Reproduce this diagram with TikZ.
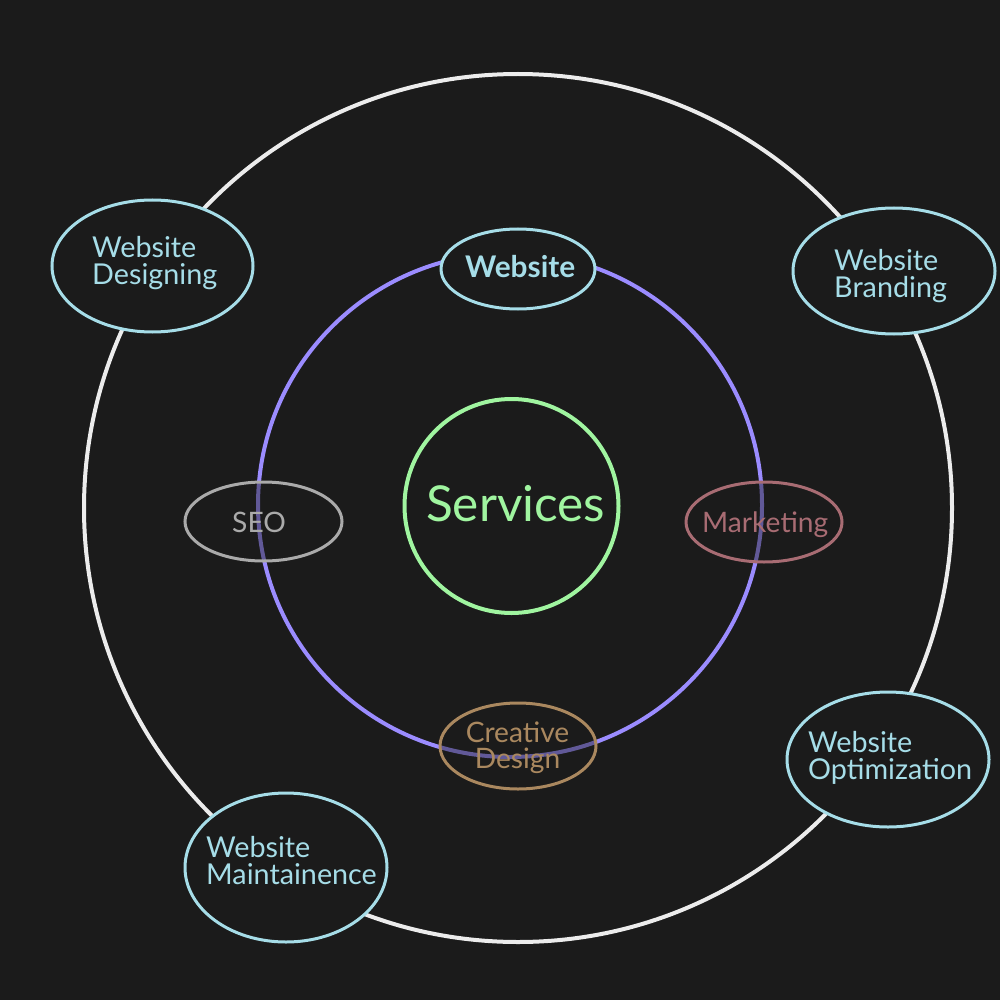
\documentclass[tikz,border=0pt]{standalone}
\usepackage{fontspec}
\setmainfont{Lato}
\usetikzlibrary{shapes.geometric}
\definecolor{bg}{HTML}{1B1B1B}
\definecolor{ringw}{RGB}{236,236,236}
\definecolor{ringp}{RGB}{155,140,255}
\definecolor{ringg}{RGB}{160,245,160}
\definecolor{cyanc}{RGB}{166,221,232}
\definecolor{seoc}{RGB}{170,170,170}
\definecolor{mktc}{RGB}{168,108,115}
\definecolor{crec}{RGB}{170,136,95}
\newlength\fitlen
\begin{document}
% font sizes fitted to the reference widths
\settowidth\fitlen{\fontsize{10}{10}\selectfont Designing}%
\pgfmathsetmacro\fsC{1250/\fitlen}\global\let\fsC\fsC
\settowidth\fitlen{\fontsize{10}{10}\selectfont\bfseries Website}%
\pgfmathsetmacro\fsW{1100/\fitlen}\global\let\fsW\fsW
\settowidth\fitlen{\fontsize{10}{10}\selectfont Services}%
\pgfmathsetmacro\fsS{1790/\fitlen}\global\let\fsS\fsS
\settowidth\fitlen{\fontsize{10}{10}\selectfont Marketing}%
\pgfmathsetmacro\fsM{1260/\fitlen}\global\let\fsM\fsM
\begin{tikzpicture}[x=1pt,y=-1pt,
  oval/.style={draw, ellipse, inner sep=0pt, line width=3pt},
  lbl/.style={inner sep=0pt, align=left}]
% background
\fill[bg] (0,0) rectangle (1000,1000);
\useasboundingbox (0,0) rectangle (1000,1000);
% outer ring
\node[draw=ringw, circle, line width=4pt, inner sep=0pt, minimum size=868pt] (outer) at (518,508) {};
% outer cyan ellipses
\node[oval, cyanc, fill=bg, minimum width=201pt, minimum height=132pt] (wd) at (152.5,266) {};
\node[oval, cyanc, fill=bg, minimum width=202pt, minimum height=126pt] (wb) at (894,271) {};
\node[oval, cyanc, fill=bg, minimum width=202pt, minimum height=135pt] (wo) at (888,759.5) {};
\node[oval, cyanc, fill=bg, minimum width=202pt, minimum height=149pt] (wm) at (286,867.5) {};
\node[lbl, text=cyanc, anchor=north west, font=\fontsize{\fsC}{27}\selectfont] (wdt) at (92,236) {Website\\Designing};
\node[lbl, text=cyanc, anchor=north west, font=\fontsize{\fsC}{27}\selectfont] (wbt) at (834,249) {Website\\Branding};
\node[lbl, text=cyanc, anchor=north west, font=\fontsize{\fsC}{27}\selectfont] (wot) at (808,731) {Website\\Optimization};
\node[lbl, text=cyanc, anchor=north west, font=\fontsize{\fsC}{27}\selectfont] (wmt) at (206,836) {Website\\Maintainence};
% purple ring
\node[draw=ringp, circle, line width=4pt, inner sep=0pt, minimum size=504pt] (mid) at (510,505) {};
% inner ellipses on the purple ring
\node[oval, cyanc, fill=bg, minimum width=154pt, minimum height=80pt] (web) at (518,269) {};
\node[anchor=base west, inner sep=0pt, text=cyanc, font=\fontsize{\fsW}{\fsW}\selectfont\bfseries] (webt) at (465,277) {Website};
\node[oval, seoc, fill=bg, fill opacity=0.45, minimum width=157pt, minimum height=79pt] (seo) at (263.5,521.5) {};
\node[anchor=base west, inner sep=0pt, text=seoc, font=\fontsize{\fsM}{\fsM}\selectfont] (seot) at (232,532) {SEO};
\node[oval, mktc, fill=bg, fill opacity=0.45, minimum width=156pt, minimum height=80pt] (mkt) at (764,522) {};
\node[anchor=base west, inner sep=0pt, text=mktc, font=\fontsize{\fsM}{\fsM}\selectfont] (mktt) at (702,532) {Marketing};
\node[oval, crec, fill=bg, fill opacity=0.45, minimum width=156pt, minimum height=86pt] (cre) at (518,746) {};
\node[lbl, align=center, anchor=north, text=crec, font=\fontsize{\fsM}{26}\selectfont] (cret) at (517.5,722) {Creative\\Design};
% centre
\node[draw=ringg, circle, line width=4pt, inner sep=0pt, minimum size=214pt] (core) at (511.5,506) {};
\node[anchor=base west, inner sep=0pt, text=ringg, font=\fontsize{\fsS}{\fsS}\selectfont] (coret) at (426,521) {Services};
\end{tikzpicture}
\end{document}
